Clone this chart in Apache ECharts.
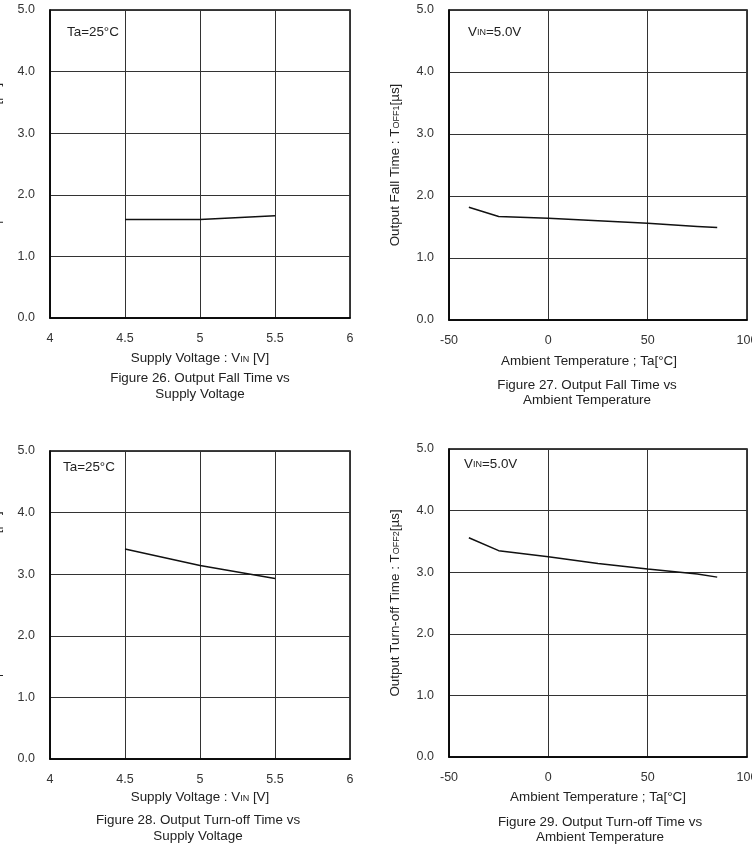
<!DOCTYPE html>
<html>
<head>
<meta charset="utf-8">
<script src="https://cdn.jsdelivr.net/npm/echarts@6/dist/echarts.min.js"></script>
<style>
html, body { margin: 0; padding: 0; background: #fff; }
#main { width: 752px; height: 857px; }
</style>
</head>
<body>
<div id="main"></div>
<script>
// supply voltage sweep (Ta=25C)
var vinList = [4.5, 5, 5.5];
var fallVsVin = [1.60, 1.60, 1.66];
var offVsVin = [3.41, 3.14, 2.93];

// temperature sweep (VIN=5.0V)
var taList = [-40, -25, 0, 25, 50, 75, 85];
var fallVsTa = [1.82, 1.67, 1.64, 1.60, 1.56, 1.51, 1.49];
var offVsTa = [3.56, 3.35, 3.25, 3.14, 3.05, 2.97, 2.92];

var vinTicks = [4, 6, 0.5];
var taTicks = [-50, 100, 50];
var yTicks = [0, 5, 1];

var FONT = 'Liberation Sans, Arial, sans-serif';
var TXT = 13.4;

function pairs( xs, ys ) {
    var out = [];
    for ( var i = 0; i < xs.length; i++ ) {
        out.push( [xs[i], ys[i]] );
    }
    return out;
}

var grids = [
    { left: 50, top: 10, width: 300, height: 308 },
    { left: 449, top: 10, width: 298, height: 310 },
    { left: 50, top: 451, width: 300, height: 308 },
    { left: 449, top: 449, width: 298, height: 308 }
];
for ( var g = 0; g < grids.length; g++ ) {
    grids[g].show = true;
    grids[g].borderColor = '#000';
    grids[g].borderWidth = 1.5;
    grids[g].backgroundColor = '#fff';
    grids[g].containLabel = false;
    grids[g].outerBoundsMode = 'none';
}

var rich = {
    s: { fontSize: 9, fontFamily: FONT, color: '#222', verticalAlign: 'bottom', padding: [0, 0, 1, 0] }
};

function xAxis( idx, ticks, name, gap, pad ) {
    return {
        type: 'value',
        gridIndex: idx,
        min: ticks[0],
        max: ticks[1],
        interval: ticks[2],
        name: name,
        nameLocation: 'middle',
        nameGap: gap,
        nameTextStyle: { fontFamily: FONT, fontSize: TXT, color: '#222', rich: rich, padding: pad || 0 },
        axisLine: { onZero: false, lineStyle: { color: '#000', width: 1.5 } },
        axisTick: { show: false },
        axisLabel: { fontFamily: FONT, fontSize: 12.5, color: '#333', margin: 14 },
        splitLine: { show: true, lineStyle: { color: '#333', width: 1 } }
    };
}

function yAxis( idx, name ) {
    return {
        type: 'value',
        gridIndex: idx,
        min: yTicks[0],
        max: yTicks[1],
        interval: yTicks[2],
        name: name,
        nameLocation: 'middle',
        nameGap: 47,
        nameTextStyle: { fontFamily: FONT, fontSize: TXT, color: '#222', rich: rich },
        axisLine: { onZero: false, lineStyle: { color: '#000', width: 1.5 } },
        axisTick: { show: false },
        axisLabel: {
            fontFamily: FONT, fontSize: 12.5, color: '#333', margin: 15,
            formatter: function ( v ) { return v.toFixed( 1 ); }
        },
        splitLine: { show: true, lineStyle: { color: '#333', width: 1 } }
    };
}

function line( idx, xs, ys ) {
    return {
        type: 'line',
        xAxisIndex: idx,
        yAxisIndex: idx,
        data: pairs( xs, ys ),
        symbol: 'none',
        lineStyle: { color: '#111', width: 1.5 },
        silent: true,
        animation: false
    };
}

function label( x, y, text, align ) {
    return {
        type: 'text',
        x: x,
        y: y,
        silent: true,
        style: {
            text: text,
            fill: '#222',
            font: TXT + 'px ' + FONT,
            align: align || 'left',
            verticalAlign: 'middle',
            rich: rich
        }
    };
}

var option = {
    backgroundColor: '#fff',
    animation: false,
    grid: grids,
    xAxis: [
        xAxis( 0, vinTicks, 'Supply Voltage : V{s|IN} [V]', 34 ),
        xAxis( 1, taTicks, 'Ambient Temperature ; Ta[°C]', 35, [0, 18, 0, 0] ),
        xAxis( 2, vinTicks, 'Supply Voltage : V{s|IN} [V]', 32 ),
        xAxis( 3, taTicks, 'Ambient Temperature ; Ta[°C]', 34 )
    ],
    yAxis: [
        yAxis( 0, 'Output Fall Time : T{s|OFF1}[µs]' ),
        yAxis( 1, 'Output Fall Time : T{s|OFF1}[µs]' ),
        yAxis( 2, 'Output Turn-off Time : T{s|OFF2}[µs]' ),
        yAxis( 3, 'Output Turn-off Time : T{s|OFF2}[µs]' )
    ],
    series: [
        line( 0, vinList, fallVsVin ),
        line( 1, taList, fallVsTa ),
        line( 2, vinList, offVsVin ),
        line( 3, taList, offVsTa )
    ],
    graphic: [
        label( 67, 32, 'Ta=25°C' ),
        label( 468, 32, 'V{s|IN}=5.0V' ),
        label( 63, 467, 'Ta=25°C' ),
        label( 464, 464, 'V{s|IN}=5.0V' ),
        label( 200, 378, 'Figure 26. Output Fall Time vs', 'center' ),
        label( 200, 394, 'Supply Voltage', 'center' ),
        label( 587, 385, 'Figure 27. Output Fall Time vs', 'center' ),
        label( 587, 400, 'Ambient Temperature', 'center' ),
        label( 198, 820, 'Figure 28. Output Turn-off Time vs', 'center' ),
        label( 198, 836, 'Supply Voltage', 'center' ),
        label( 600, 822, 'Figure 29. Output Turn-off Time vs', 'center' ),
        label( 600, 837, 'Ambient Temperature', 'center' )
    ]
};

var Chart = echarts.init( document.getElementById( 'main' ), null, { renderer: 'canvas' } );
Chart.setOption( option );
</script>
</body>
</html>
